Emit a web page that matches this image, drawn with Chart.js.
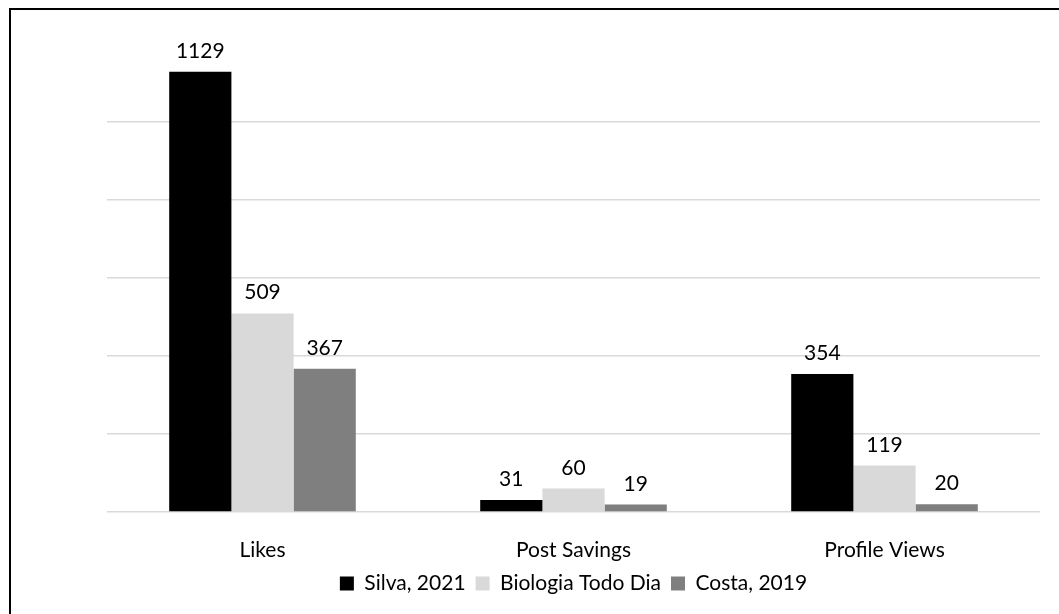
<!DOCTYPE html>
<html>
<head>
<meta charset="utf-8">
<script src="https://cdn.jsdelivr.net/npm/chart.js@4/dist/chart.umd.min.js"></script>
<style>
  html, body { margin: 0; padding: 0; background: #ffffff; overflow: hidden; }
  #wrap { position: absolute; left: 0; top: 0; width: 1059px; height: 614px; }
</style>
</head>
<body>
<div id="wrap"><canvas id="c" width="1059" height="614"></canvas></div>
<script>
const categories = ["Likes", "Post Savings", "Profile Views"];
const seriesNames = ["Silva, 2021", "Biologia Todo Dia", "Costa, 2019"];
const silva = [1129, 31, 354];
const biologia = [509, 60, 119];
const costa = [367, 19, 20];
const seriesColors = ["#000000", "#d9d9d9", "#7f7f7f"];
const yTicks = [0, 200, 400, 600, 800, 1000, 1200];

const FONT = { family: "Lato, 'Open Sans', sans-serif", size: 21 };

const framePlugin = {
  id: 'frame',
  beforeDraw(chart) {
    const ctx = chart.ctx;
    ctx.save();
    ctx.fillStyle = '#ffffff';
    ctx.fillRect(0, 0, chart.width, chart.height);
    ctx.strokeStyle = '#000000';
    ctx.lineWidth = 2;
    ctx.beginPath();
    ctx.moveTo(10, chart.height + 5);
    ctx.lineTo(10, 9);
    ctx.lineTo(chart.width + 5, 9);
    ctx.stroke();
    ctx.restore();
  }
};

const valueLabels = {
  id: 'valueLabels',
  afterDatasetsDraw(chart) {
    const ctx = chart.ctx;
    ctx.save();
    ctx.font = FONT.size + 'px ' + FONT.family;
    ctx.fillStyle = '#000000';
    ctx.textAlign = 'center';
    ctx.textBaseline = 'alphabetic';
    chart.data.datasets.forEach((ds, i) => {
      const meta = chart.getDatasetMeta(i);
      meta.data.forEach((bar, j) => {
        ctx.fillText(String(ds.data[j]), bar.x, bar.y - 14);
      });
    });
    ctx.restore();
  }
};

new Chart(document.getElementById('c'), {
  type: 'bar',
  data: {
    labels: categories,
    datasets: [
      { label: seriesNames[0], data: silva, backgroundColor: seriesColors[0] },
      { label: seriesNames[1], data: biologia, backgroundColor: seriesColors[1] },
      { label: seriesNames[2], data: costa, backgroundColor: seriesColors[2] }
    ]
  },
  options: {
    responsive: false,
    animation: false,
    devicePixelRatio: 1,
    layout: { padding: { left: 107, right: 19, top: 44, bottom: 10 } },
    datasets: { bar: { categoryPercentage: 0.6, barPercentage: 1.0, borderWidth: 0 } },
    scales: {
      x: {
        grid: { display: false },
        border: { display: false },
        ticks: { font: FONT, color: '#000000', padding: 18 },
        afterFit(scale) { scale.height = 51; }
      },
      y: {
        min: 0,
        max: yTicks[yTicks.length - 1],
        afterBuildTicks(scale) { scale.ticks = yTicks.map(v => ({ value: v })); },
        ticks: { display: false },
        border: { display: false },
        grid: {
          drawTicks: false,
          lineWidth: 1.5,
          color: (c) => (c.tick && c.tick.value === yTicks[yTicks.length - 1]) ? 'rgba(0,0,0,0)' : '#d9d9d9'
        }
      }
    },
    plugins: {
      legend: {
        position: 'bottom',
        labels: { font: FONT, color: '#000000', boxWidth: 14, boxHeight: 14, padding: 10 }
      },
      tooltip: { enabled: false }
    }
  },
  plugins: [framePlugin, valueLabels]
});
</script>
</body>
</html>
